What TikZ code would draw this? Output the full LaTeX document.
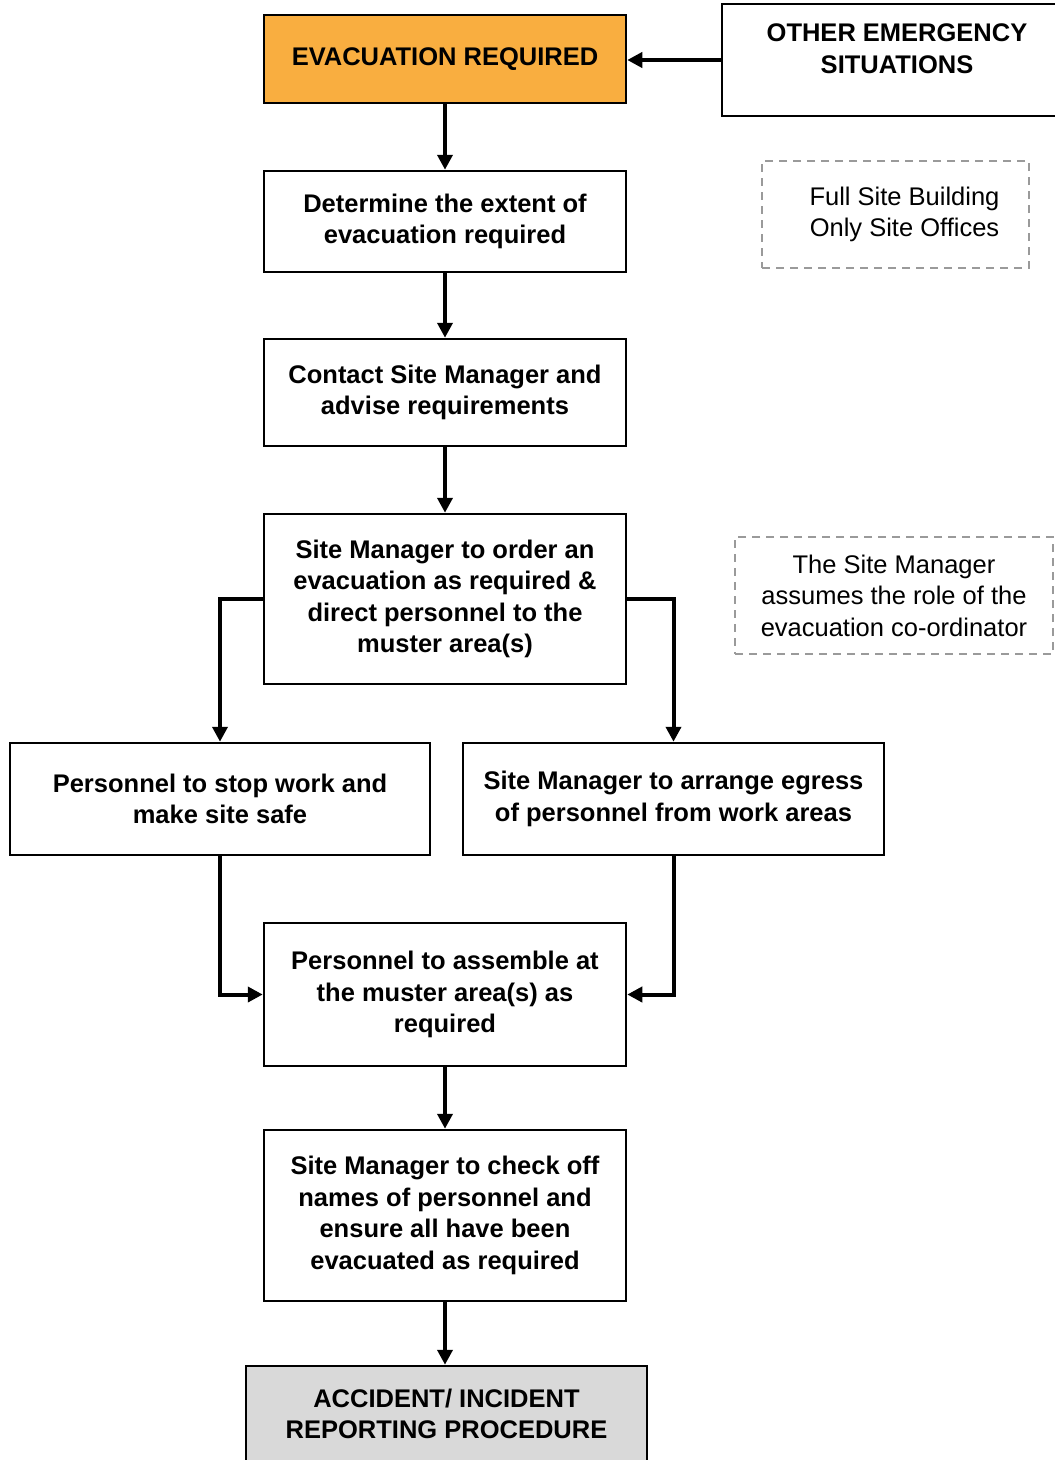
\documentclass[tikz,border=0pt]{standalone}
\usepackage{fontspec}
\setmainfont{Liberation Sans}
\usetikzlibrary{arrows.meta}
\definecolor{evacorange}{HTML}{F9AE40}
\definecolor{accgray}{HTML}{D9D9D9}
\definecolor{dashgray}{HTML}{9A9A9A}
\tikzset{
  box/.style={draw=black, line width=2.5pt, fill=white, align=center,
    font=\fontsize{25.5}{31.5}\selectfont\bfseries, inner sep=0pt},
  notebox/.style={draw=dashgray, line width=2pt, dash pattern=on 8pt off 6pt,
    align=center, font=\fontsize{25.5}{31.5}\selectfont, inner sep=0pt},
  flow/.style={line width=4pt, -{Triangle[length=15pt,width=15pt]}},
}
\begin{document}
\begin{tikzpicture}[x=1pt,y=-1pt]
\useasboundingbox (0,0) rectangle (1055,1460);
\fill[white] (0,0) rectangle (1055,1460);

\node[box, fill=evacorange, minimum width=362pt, minimum height=88pt] (evac) at (445,59) {EVACUATION REQUIRED};
\node[box, minimum width=350pt, minimum height=112pt, text depth=23pt] (other) at (897,60) {OTHER EMERGENCY\\SITUATIONS};
\node[box, minimum width=362pt, minimum height=101pt] (determine) at (445,221.5) {Determine the extent of\\evacuation required};
\node[notebox, minimum width=267pt, minimum height=107pt] (fullsite) at (895.5,214.5) {\hspace*{18pt}Full Site Building\\\hspace*{18pt}Only Site Offices};
\node[box, minimum width=362pt, minimum height=107pt] (contact) at (445,392.5) {Contact Site Manager and\\advise requirements};
\node[box, minimum width=362pt, minimum height=170pt] (order) at (445,599) {Site Manager to order an\\evacuation as required \&\\direct personnel to the\\muster area(s)};
\node[notebox, minimum width=318pt, minimum height=117pt] (role) at (894,595.5) {The Site Manager\\assumes the role of the\\evacuation co-ordinator};
\node[box, minimum width=420pt, minimum height=112pt] (stop) at (220,799) {Personnel to stop work and\\make site safe};
\node[box, minimum width=421pt, minimum height=112pt] (arrange) at (673.5,799) {Site Manager to arrange egress\\of personnel from work areas};
\node[box, minimum width=362pt, minimum height=143pt] (assemble) at (445,994.5) {Personnel to assemble at\\the muster area(s) as\\required};
\node[box, minimum width=362pt, minimum height=171pt] (check) at (445,1215.5) {Site Manager to check off\\names of personnel and\\ensure all have been\\evacuated as required};
\node[box, fill=accgray, minimum width=401pt, minimum height=96pt] (accident) at (446.5,1414) {ACCIDENT/ INCIDENT\\REPORTING PROCEDURE};

\draw[flow] (other.west) -- (other.west -| evac.east);
\draw[flow] (evac.south) -- (determine.north);
\draw[flow] (determine.south) -- (contact.north);
\draw[flow] (contact.south) -- (order.north);
\draw[flow] (order.west) -| (stop.north);
\draw[flow] (order.east) -| (arrange.north);
\draw[flow] (stop.south) |- (assemble.west);
\draw[flow] (arrange.south) |- (assemble.east);
\draw[flow] (assemble.south) -- (check.north);
\draw[flow] (check.south) -- (check.south |- accident.north);
\end{tikzpicture}
\end{document}
